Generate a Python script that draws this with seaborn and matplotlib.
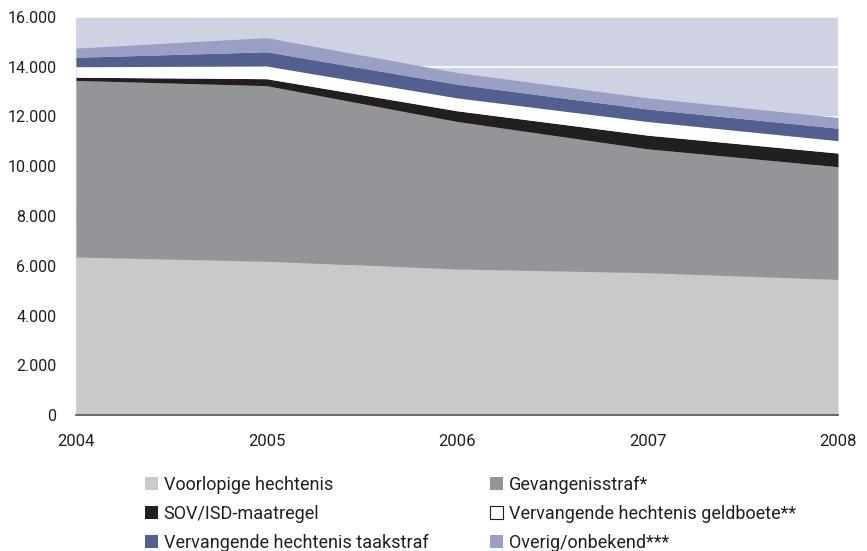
import numpy as np
import pandas as pd
import seaborn as sns
import matplotlib.pyplot as plt
from matplotlib.patches import Patch
from matplotlib.ticker import FuncFormatter

# Data
jaren = [2004, 2005, 2006, 2007, 2008]
voorlopige = [6350, 6180, 5870, 5720, 5450]
gevangenisstraf = [7100, 7060, 5930, 4980, 4530]
sov_isd = [130, 280, 430, 550, 550]
geldboete = [420, 510, 520, 550, 500]
taakstraf = [380, 570, 550, 500, 500]
overig = [370, 570, 470, 450, 430]

labels = ["Voorlopige hechtenis", "Gevangenisstraf*", "SOV/ISD-maatregel",
          "Vervangende hechtenis geldboete**", "Vervangende hechtenis taakstraf",
          "Overig/onbekend***"]
kleuren = ["#c8c9cb", "#939598", "#231f20", "#ffffff", "#525f90", "#9a9fc4"]

df = pd.DataFrame(dict(zip(labels, [voorlopige, gevangenisstraf, sov_isd,
                                    geldboete, taakstraf, overig])), index=jaren)

sns.set_style("white")
plt.rcParams['font.family'] = ['Roboto', 'DejaVu Sans']

fig = plt.figure(figsize=(8.67, 5.51), dpi=100)
ax = fig.add_axes([76 / 867, 1 - 415 / 551, (838 - 76) / 867, (415 - 17) / 551])
ax.set_facecolor("#cfd2e3")

ax.stackplot(df.index, df.T.values, colors=kleuren, linewidth=0, zorder=2)

ax.set_xlim(2004, 2008)
ax.set_ylim(0, 16000)
ax.set_xticks(jaren)
ax.set_yticks(range(0, 16001, 2000))
ax.yaxis.set_major_formatter(FuncFormatter(lambda v, p: f"{int(v):,}".replace(",", ".")))
ax.grid(axis="y", color="white", linewidth=1.2, zorder=1)
ax.set_axisbelow(True)

sns.despine(ax=ax, left=True, top=True, right=True)
ax.spines["bottom"].set_color("#555555")
ax.spines["bottom"].set_linewidth(1.2)
ax.tick_params(axis="x", length=0, pad=14, labelsize=12, labelcolor="#231f20")
ax.tick_params(axis="y", length=0, pad=14, labelsize=11.5, labelcolor="#231f20")

# legenda in twee kolommen
def handles(idx):
    out = []
    for i in idx:
        rand = "#231f20" if kleuren[i] == "#ffffff" else "none"
        out.append(Patch(facecolor=kleuren[i], edgecolor=rand, linewidth=0.8, label=labels[i]))
    return out

leg_kw = dict(loc="upper left", frameon=False, borderpad=0, borderaxespad=0,
              handlelength=0.73, handleheight=0.73, handletextpad=0.3,
              labelspacing=0.6, labelcolor="#231f20",
              prop={"family": ["Roboto", "DejaVu Sans"], "size": 13})
leg1 = fig.legend(handles=handles([0, 2, 4]), bbox_to_anchor=(145 / 867, 1 - 476 / 551), **leg_kw)
leg2 = fig.legend(handles=handles([1, 3, 5]), bbox_to_anchor=(490 / 867, 1 - 476 / 551), **leg_kw)

fig.savefig("out.png", dpi=100)
